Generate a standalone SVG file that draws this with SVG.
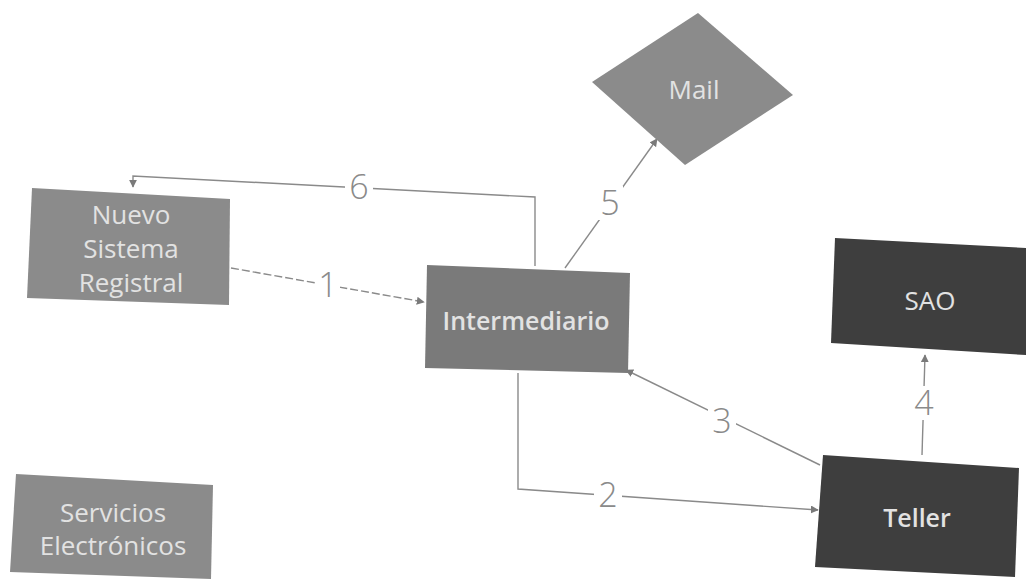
<svg xmlns="http://www.w3.org/2000/svg" width="1026" height="588" viewBox="0 0 1026 588">
<style>
.lt{fill:#8b8b8b}
.md{fill:#7a7a7a}
.dk{fill:#3e3e3e}
.t{font-family:"Open Sans","Noto Sans","Liberation Sans",sans-serif;font-size:26px;fill:#e2e2e2;text-anchor:middle}
.b{font-weight:600;font-size:25px}
.c{fill:none;stroke:#8a8a8a;stroke-width:1.4}
.n{font-family:"Open Sans","Liberation Sans",sans-serif;font-weight:300;font-size:34px;fill:#8a8a8a;text-anchor:middle}
.m{fill:#fff}
</style>
<defs>
<marker id="ah" viewBox="0 0 10 10" refX="9" refY="5" markerWidth="8" markerHeight="8" orient="auto-start-reverse" markerUnits="userSpaceOnUse">
<path d="M0,0 L10,5 L0,10 z" fill="#7a7a7a"/>
</marker>
</defs>
<rect width="1026" height="588" fill="#ffffff"/>
<g id="connectors">
<polyline class="c" points="535,266 535,197 133,176 133,187" marker-end="url(#ah)"/>
<rect class="m" x="345" y="170" width="28" height="34"/>
<text class="n" x="359" y="199">6</text>
<line class="c" x1="231" y1="268" x2="424" y2="302" stroke-dasharray="8,3" marker-end="url(#ah)"/>
<rect class="m" x="316" y="268" width="24" height="34"/>
<text class="n" x="328" y="297">1</text>
<line class="c" x1="565" y1="268" x2="657" y2="139" marker-end="url(#ah)"/>
<rect class="m" x="597" y="186" width="26" height="34"/>
<text class="n" x="610" y="215">5</text>
<line class="c" x1="820" y1="465" x2="626" y2="370" marker-end="url(#ah)"/>
<rect class="m" x="708" y="404" width="28" height="34"/>
<text class="n" x="722" y="433">3</text>
<polyline class="c" points="518,373 518,489 818,510" marker-end="url(#ah)"/>
<rect class="m" x="594" y="478" width="28" height="34"/>
<text class="n" x="608" y="507">2</text>
<line class="c" x1="922" y1="455" x2="925" y2="355" marker-end="url(#ah)"/>
<rect class="m" x="910" y="386" width="28" height="34"/>
<text class="n" x="924" y="415">4</text>
</g>
<g id="nuevo">
<polygon class="lt" points="32,188 230,199 229,305 27,298"/>
<text class="t" x="131" y="224">Nuevo</text>
<text class="t" x="131" y="258">Sistema</text>
<text class="t" x="131" y="292">Registral</text>
</g>
<g id="intermediario">
<polygon class="md" points="427,265 630,273 628,373 425,368"/>
<text class="t b" x="526" y="330">Intermediario</text>
</g>
<g id="mail">
<polygon class="lt" points="698,13 793,95 685,165 592,82"/>
<text class="t" x="694" y="99">Mail</text>
</g>
<g id="sao">
<polygon class="dk" points="835,238 1026,248 1026,355 831,343"/>
<text class="t" x="930" y="310">SAO</text>
</g>
<g id="teller">
<polygon class="dk" points="823,455 1019,468 1015,577 815,567"/>
<text class="t b" x="917" y="527">Teller</text>
</g>
<g id="servicios">
<polygon class="lt" points="16,474 213,485 211,579 10,572"/>
<text class="t" x="113" y="522">Servicios</text>
<text class="t" x="113" y="555">Electrónicos</text>
</g>
</svg>
